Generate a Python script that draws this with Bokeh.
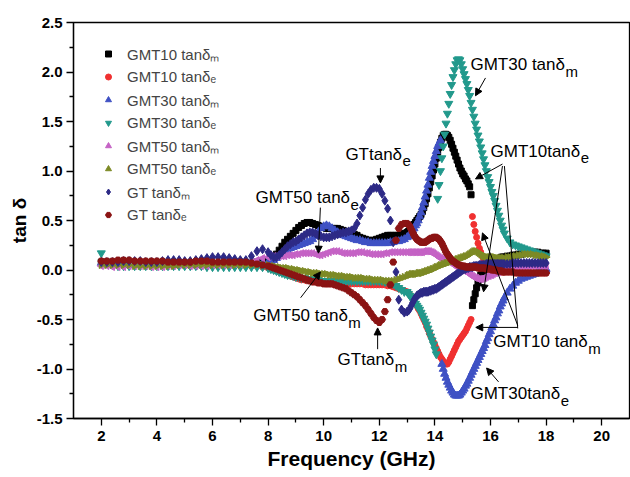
import numpy as np
from bokeh.plotting import figure
from bokeh.models import (ColumnDataSource, Range1d, FixedTicker, NumeralTickFormatter,
                          Legend, LegendItem, Label, Arrow, NormalHead)
from bokeh.embed import file_html
from bokeh.resources import INLINE

# ---------------- data ----------------
# frequency grid (GHz): 0.2 step 2-7.8, 0.1 step 8-12.9, 0.05 step 13-16.45, 0.1 step 16.5-18
freq = np.round(np.concatenate([np.arange(2.0, 7.9, 0.2), np.arange(8.0, 12.95, 0.1),
                                np.arange(13.0, 16.475, 0.05), np.arange(16.5, 18.05, 0.1)]), 2)

gmt10_m = [0.08,0.08,0.07,0.07,0.07,0.07,0.06,0.06,0.07,0.07,
           0.07,0.07,0.06,0.06,0.06,0.07,0.07,0.07,0.07,0.06,
           0.06,0.06,0.07,0.07,0.08,0.08,0.07,0.07,0.08,0.09,
           0.10,0.11,0.13,0.16,0.20,0.24,0.28,0.31,0.34,0.37,
           0.40,0.43,0.45,0.47,0.48,0.48,0.47,0.46,0.45,0.44,
           0.43,0.42,0.42,0.42,0.42,0.42,0.41,0.40,0.39,0.38,
           0.37,0.36,0.35,0.33,0.32,0.31,0.30,0.30,0.30,0.31,
           0.32,0.33,0.34,0.35,0.35,0.35,0.35,0.35,0.36,0.37,
           0.38,0.39,0.40,0.42,0.44,0.46,0.48,0.50,0.52,0.54,
           0.56,0.59,0.63,0.67,0.72,0.77,0.83,0.89,0.95,1.01,
           1.07,1.13,1.19,1.24,1.29,1.33,1.36,1.37,1.37,1.36,
           1.34,1.31,1.27,1.23,1.19,1.15,1.11,1.07,1.03,1.00,
           0.97,0.95,0.92,0.90,0.87,0.84,0.76,-0.36,-0.30,-0.24,
           -0.18,-0.13,-0.09,-0.05,-0.02,0.00,0.01,0.02,0.03,0.04,
           0.05,0.06,0.07,0.08,0.09,0.10,0.11,0.12,0.13,0.13,
           0.13,0.14,0.14,0.15,0.15,0.16,0.16,0.17,0.17,0.17,0.18,0.18,0.18,0.17,0.17,0.17]

gmt10_e = [0.06,0.06,0.05,0.05,0.05,0.05,0.05,0.05,0.05,0.05,
           0.05,0.05,0.05,0.05,0.05,0.05,0.05,0.05,0.05,0.05,
           0.05,0.05,0.05,0.05,0.05,0.05,0.05,0.04,0.04,0.03,
           0.02,0.01,0.00,-0.01,-0.02,-0.03,-0.04,-0.05,-0.06,-0.07,
           -0.08,-0.09,-0.10,-0.10,-0.11,-0.11,-0.12,-0.12,-0.13,-0.13,
           -0.13,-0.14,-0.14,-0.14,-0.14,-0.14,-0.14,-0.14,-0.14,-0.14,
           -0.14,-0.14,-0.14,-0.14,-0.14,-0.15,-0.15,-0.15,-0.15,-0.15,
           -0.15,-0.15,-0.15,-0.16,-0.16,-0.17,-0.18,-0.19,-0.20,-0.21,
           -0.22,-0.23,-0.25,-0.27,-0.29,-0.31,-0.34,-0.36,-0.39,-0.41,
           -0.44,-0.47,-0.50,-0.53,-0.57,-0.60,-0.64,-0.67,-0.70,-0.73,
           -0.76,-0.79,-0.82,-0.85,-0.88,-0.90,-0.92,-0.94,-0.95,-0.95,
           -0.93,-0.90,-0.87,-0.84,-0.81,-0.78,-0.75,-0.72,-0.70,-0.68,
           -0.66,-0.64,-0.62,-0.59,-0.56,-0.53,-0.50,0.54,0.46,0.39,
           0.33,0.27,0.22,0.18,0.14,0.11,0.08,0.06,0.04,0.03,
           0.02,0.01,0.00,0.00,-0.01,-0.01,-0.02,-0.02,-0.02,-0.02,
           -0.02,-0.02,-0.02,-0.02,-0.02,-0.02,-0.02,-0.03,-0.03,-0.03,-0.03,-0.03,-0.03,-0.03,-0.03,-0.03]

gmt30_m = [0.07,0.06,0.06,0.05,0.05,0.05,0.05,0.05,0.05,0.05,
           0.05,0.05,0.05,0.05,0.05,0.05,0.05,0.05,0.05,0.05,
           0.05,0.05,0.05,0.05,0.05,0.06,0.06,0.06,0.07,0.07,
           0.08,0.09,0.10,0.12,0.14,0.16,0.18,0.20,0.22,0.23,
           0.24,0.25,0.26,0.27,0.28,0.29,0.31,0.34,0.38,0.42,
           0.44,0.45,0.44,0.42,0.40,0.38,0.36,0.35,0.34,0.33,
           0.32,0.31,0.30,0.30,0.29,0.28,0.28,0.27,0.27,0.27,
           0.27,0.27,0.27,0.27,0.28,0.28,0.29,0.29,0.30,0.31,
           0.33,0.34,0.36,0.38,0.40,0.42,0.45,0.47,0.50,0.54,
           0.58,0.63,0.68,0.74,0.80,0.86,0.93,0.99,1.05,1.10,
           1.15,1.20,1.25,1.28,1.31,-0.95,-1.00,-1.05,-1.09,-1.13,
           -1.16,-1.19,-1.22,-1.24,-1.26,-1.27,-1.27,-1.27,-1.26,-1.24,
           -1.22,-1.20,-1.17,-1.15,-1.12,-1.09,-1.06,-1.03,-1.00,-0.97,
           -0.94,-0.91,-0.88,-0.85,-0.82,-0.79,-0.76,-0.72,-0.69,-0.65,
           -0.62,-0.58,-0.55,-0.51,-0.48,-0.44,-0.41,-0.37,-0.34,-0.31,
           -0.28,-0.23,-0.19,-0.16,-0.13,-0.11,-0.09,-0.08,-0.07,-0.06,-0.05,-0.04,-0.02,-0.01,0.00,0.01]

gmt30_e = [0.17,0.08,0.05,0.04,0.04,0.04,0.04,0.04,0.04,0.04,
           0.04,0.04,0.04,0.04,0.04,0.04,0.04,0.04,0.04,0.03,
           0.03,0.03,0.03,0.03,0.03,0.03,0.03,0.03,0.03,0.03,
           0.02,0.01,0.00,-0.01,-0.02,-0.03,-0.04,-0.05,-0.05,-0.06,
           -0.07,-0.07,-0.08,-0.08,-0.09,-0.09,-0.10,-0.10,-0.10,-0.11,
           -0.11,-0.11,-0.11,-0.11,-0.11,-0.11,-0.11,-0.11,-0.11,-0.11,
           -0.11,-0.11,-0.11,-0.11,-0.11,-0.11,-0.11,-0.11,-0.11,-0.11,
           -0.11,-0.11,-0.12,-0.12,-0.13,-0.14,-0.16,-0.18,-0.20,-0.22,
           -0.22,-0.24,-0.26,-0.28,-0.30,-0.32,-0.34,-0.36,-0.38,-0.40,
           -0.43,-0.46,-0.49,-0.52,-0.55,-0.59,-0.63,-0.67,-0.71,-0.75,
           -0.80,-0.85,0.72,0.86,1.00,1.13,1.25,1.37,1.48,1.58,
           1.68,1.78,1.87,1.95,2.02,2.08,2.12,2.13,2.12,2.08,
           2.03,1.98,1.93,1.88,1.82,1.76,1.69,1.62,1.55,1.48,
           1.42,1.36,1.30,1.24,1.18,1.12,1.06,1.00,0.94,0.89,
           0.84,0.79,0.75,0.70,0.65,0.60,0.55,0.50,0.45,0.41,
           0.37,0.32,0.28,0.26,0.25,0.24,0.23,0.22,0.21,0.20,0.19,0.18,0.17,0.16,0.15,0.14]

gmt50_m = [0.04,0.04,0.03,0.03,0.03,0.04,0.04,0.04,0.04,0.03,
           0.03,0.03,0.04,0.04,0.05,0.05,0.04,0.04,0.04,0.04,
           0.05,0.05,0.05,0.05,0.06,0.06,0.07,0.08,0.10,0.12,
           0.13,0.14,0.14,0.14,0.14,0.14,0.14,0.15,0.15,0.15,
           0.16,0.16,0.17,0.17,0.17,0.17,0.17,0.16,0.15,0.15,
           0.16,0.17,0.18,0.19,0.19,0.19,0.18,0.17,0.17,0.17,
           0.17,0.17,0.18,0.18,0.18,0.17,0.17,0.16,0.16,0.16,
           0.16,0.16,0.17,0.17,0.18,0.18,0.18,0.18,0.18,0.18,
           0.18,0.18,0.18,0.18,0.18,0.18,0.18,0.18,0.18,0.18,
           0.18,0.18,0.19,0.19,0.19,0.19,0.19,0.18,0.18,0.17,
           0.16,0.15,0.14,0.13,0.12,0.11,0.11,0.10,0.10,0.09,
           0.09,0.08,0.07,0.06,0.05,0.04,0.03,0.02,0.01,0.00,
           0.00,-0.01,-0.01,-0.02,-0.03,-0.04,-0.05,-0.06,-0.07,-0.08,
           -0.08,-0.09,-0.09,-0.09,-0.09,-0.08,-0.08,-0.07,-0.06,-0.06,
           -0.05,-0.05,-0.04,-0.03,-0.03,-0.02,-0.02,-0.01,-0.01,0.00,
           0.00,0.01,0.01,0.02,0.02,0.02,0.03,0.03,0.03,0.03,0.04,0.04,0.04,0.04,0.04,0.04]

gmt50_e = [0.05,0.05,0.05,0.05,0.05,0.05,0.04,0.04,0.04,0.04,
           0.04,0.04,0.04,0.04,0.05,0.05,0.05,0.05,0.05,0.05,
           0.05,0.05,0.05,0.05,0.05,0.05,0.05,0.05,0.05,0.05,
           0.05,0.04,0.04,0.03,0.03,0.02,0.02,0.02,0.01,0.01,
           0.00,0.00,-0.01,-0.01,-0.02,-0.02,-0.03,-0.03,-0.03,-0.04,
           -0.04,-0.04,-0.05,-0.05,-0.05,-0.06,-0.06,-0.06,-0.07,-0.07,
           -0.07,-0.08,-0.08,-0.08,-0.08,-0.09,-0.09,-0.09,-0.10,-0.10,
           -0.10,-0.10,-0.11,-0.11,-0.11,-0.11,-0.10,-0.09,-0.08,-0.07,
           -0.06,-0.05,-0.05,-0.04,-0.04,-0.04,-0.04,-0.04,-0.03,-0.03,
           -0.03,-0.03,-0.02,-0.02,-0.01,-0.01,0.00,0.00,0.01,0.01,
           0.02,0.03,0.03,0.04,0.05,0.05,0.06,0.06,0.07,0.07,
           0.08,0.08,0.09,0.09,0.10,0.10,0.11,0.11,0.12,0.12,
           0.13,0.13,0.14,0.14,0.15,0.16,0.17,0.18,0.19,0.19,
           0.19,0.18,0.17,0.16,0.15,0.14,0.14,0.13,0.13,0.13,
           0.13,0.13,0.13,0.13,0.12,0.12,0.12,0.12,0.12,0.12,
           0.12,0.13,0.13,0.14,0.14,0.15,0.15,0.16,0.16,0.16,0.16,0.15,0.15,0.14,0.14,0.13]

gt_m = [0.08,0.08,0.08,0.08,0.09,0.09,0.09,0.09,0.08,0.08,
        0.08,0.09,0.10,0.10,0.10,0.09,0.09,0.10,0.11,0.12,
        0.13,0.13,0.13,0.12,0.11,0.10,0.10,0.14,0.19,0.21,
        0.18,0.15,0.13,0.13,0.15,0.18,0.21,0.24,0.26,0.28,
        0.29,0.31,0.33,0.35,0.37,0.38,0.38,0.37,0.35,0.34,
        0.33,0.33,0.33,0.34,0.35,0.36,0.37,0.38,0.38,0.39,
        0.40,0.42,0.47,0.55,0.63,0.71,0.77,0.81,0.83,0.83,
        0.82,0.77,0.70,0.62,0.50,0.28,-0.02,-0.30,-0.40,-0.43,
        -0.42,-0.41,-0.39,-0.36,-0.33,-0.30,-0.28,-0.26,-0.25,-0.24,
        -0.23,-0.23,-0.22,-0.22,-0.22,-0.22,-0.21,-0.21,-0.20,-0.20,
        -0.19,-0.19,-0.18,-0.17,-0.16,-0.15,-0.14,-0.13,-0.12,-0.11,
        -0.10,-0.09,-0.08,-0.07,-0.06,-0.05,-0.04,-0.03,-0.02,-0.01,
        0.00,0.01,0.01,0.02,0.02,0.03,0.03,0.03,0.04,0.04,
        0.04,0.04,0.05,0.05,0.05,0.05,0.05,0.06,0.06,0.06,
        0.06,0.06,0.06,0.06,0.06,0.06,0.06,0.06,0.06,0.06,
        0.06,0.06,0.06,0.07,0.07,0.07,0.07,0.07,0.07,0.07,0.07,0.07,0.07,0.07,0.07,0.07]

gt_e = [0.09,0.09,0.09,0.10,0.10,0.10,0.09,0.09,0.09,0.09,
        0.09,0.09,0.08,0.08,0.08,0.08,0.08,0.09,0.09,0.09,
        0.08,0.08,0.08,0.08,0.08,0.08,0.08,0.07,0.06,0.05,
        0.04,0.03,0.02,0.01,0.00,-0.01,-0.02,-0.03,-0.04,-0.05,
        -0.06,-0.07,-0.08,-0.09,-0.10,-0.11,-0.12,-0.12,-0.13,-0.13,
        -0.14,-0.14,-0.14,-0.14,-0.15,-0.16,-0.17,-0.18,-0.19,-0.21,
        -0.23,-0.25,-0.27,-0.30,-0.33,-0.36,-0.40,-0.44,-0.48,-0.51,
        -0.53,-0.50,-0.42,-0.30,-0.15,0.08,0.30,0.42,0.46,0.47,
        0.47,0.46,0.44,0.41,0.38,0.35,0.33,0.31,0.30,0.29,
        0.28,0.28,0.28,0.28,0.29,0.30,0.31,0.32,0.32,0.33,
        0.33,0.33,0.32,0.31,0.29,0.27,0.24,0.21,0.18,0.16,
        0.14,0.12,0.10,0.09,0.08,0.07,0.06,0.05,0.05,0.04,
        0.04,0.04,0.03,0.03,0.03,0.03,0.03,0.03,0.03,0.03,
        0.03,0.02,0.02,0.02,0.02,0.02,0.02,0.01,0.01,0.01,
        0.01,0.00,0.00,0.00,0.00,-0.01,-0.01,-0.01,-0.01,-0.02,
        -0.02,-0.02,-0.02,-0.02,-0.03,-0.03,-0.03,-0.03,-0.03,-0.03,-0.03,-0.03,-0.03,-0.03,-0.03,-0.03]

x_ticks = [2, 4, 6, 8, 10, 12, 14, 16, 18, 20]
x_minor = [3, 5, 7, 9, 11, 13, 15, 17, 19]
y_ticks = [-1.5, -1.0, -0.5, 0.0, 0.5, 1.0, 1.5, 2.0, 2.5]
y_minor = [-1.25, -0.75, -0.25, 0.25, 0.75, 1.25, 1.75, 2.25]

series = [
    ("gmt10_m", gmt10_m, "GMT10 tanδ\u2098", "square", 6, "#000000", 0.0),
    ("gmt10_e", gmt10_e, "GMT10 tanδ\u2091", "circle", 6, "#f03030", 0.0),
    ("gmt30_m", gmt30_m, "GMT30 tanδ\u2098", "triangle", 8, "#3f51c4", 0.0),
    ("gmt30_e", gmt30_e, "GMT30 tanδ\u2091", "inverted_triangle", 8, "#22998c", 0.0),
    ("gmt50_m", gmt50_m, "GMT50 tanδ\u2098", "triangle", 7, "#c563c5", np.pi / 2),
    ("gmt50_e", gmt50_e, "GMT50 tanδ\u2091", "triangle", 7, "#7d8a25", -np.pi / 2),
    ("gt_m", gt_m, "GT tanδ\u2098", "diamond", 9, "#2d2a86", 0.0),
    ("gt_e", gt_e, "GT tanδ\u2091", "hex", 7, "#8b1414", 0.0),
]

data = {"f": freq}
for key, vals, *_ in series:
    assert len(vals) == len(freq), (key, len(vals), len(freq))
    data[key] = vals
src = ColumnDataSource(data)

FONT = "Liberation Sans"

p = figure(width=630, height=477, output_backend="svg", toolbar_location=None,
           x_range=Range1d(1, 21), y_range=Range1d(-1.5, 2.5),
           min_border_left=73, min_border_right=1, min_border_top=22, min_border_bottom=59)
p.xgrid.visible = False
p.ygrid.visible = False
p.outline_line_color = "black"
p.outline_line_width = 1.3
p.outline_line_alpha = 1.0
p.background_fill_color = "white"
p.border_fill_color = "white"

items = []
for key, vals, label, marker, size, color, angle in series:
    r = p.scatter(x="f", y=key, source=src, marker=marker, size=size, angle=angle,
                  fill_color=color, line_color=color)
    items.append(LegendItem(label=label, renderers=[r]))

legend = Legend(items=items, location="top_left", margin=10, padding=10, spacing=0,
                label_height=23, glyph_height=15, glyph_width=30, label_standoff=4,
                label_text_font=FONT, label_text_font_size="15px",
                background_fill_alpha=0, border_line_alpha=0)
p.add_layout(legend)

for ax in (p.xaxis[0], p.yaxis[0]):
    ax.major_label_text_font = FONT
    ax.major_label_text_font_style = "bold"
    ax.major_label_text_font_size = "15px"
    ax.major_label_text_color = "black"
    ax.axis_label_text_font = FONT
    ax.axis_label_text_font_style = "bold"
    ax.axis_label_text_color = "black"
    ax.axis_line_width = 1.3
    ax.major_tick_line_width = 1.3
    ax.minor_tick_line_width = 1.3
    ax.major_tick_in = 0
    ax.major_tick_out = 7
    ax.minor_tick_in = 0
    ax.minor_tick_out = 4

p.xaxis.ticker = FixedTicker(ticks=x_ticks, minor_ticks=x_minor)
p.yaxis.ticker = FixedTicker(ticks=y_ticks, minor_ticks=y_minor)
p.yaxis.formatter = NumeralTickFormatter(format="0.0")
p.xaxis.axis_label = "Frequency (GHz)"
p.xaxis.axis_label_text_font_size = "21px"
p.xaxis.major_label_standoff = 5
p.xaxis.axis_label_standoff = 3
p.yaxis.axis_label = "tan δ"
p.yaxis.axis_label_text_font_size = "19px"
p.yaxis.major_label_standoff = 4
p.yaxis.axis_label_standoff = 4

# ---------------- annotations ----------------
W = {"G": .778, "M": .833, "T": .611, "0": .556, "1": .556, "3": .556, "5": .556,
     " ": .278, "t": .278, "a": .556, "n": .556, "δ": .556}

def ann(x, y, main, sub, size=17):
    w = sum(W.get(c, .556) for c in main) * size
    p.add_layout(Label(x=x, y=y, text=main, text_font=FONT, text_font_size=f"{size}px",
                       text_baseline="middle", text_color="black"))
    p.add_layout(Label(x=x, y=y, x_offset=w + 0.5, y_offset=-7, text=sub, text_font=FONT,
                       text_font_size="15px", text_baseline="middle", text_color="black"))

ann(15.28, 2.08, "GMT30 tanδ", "m")
ann(16.00, 1.20, "GMT10tanδ", "e")
ann(7.55, 0.73, "GMT50 tanδ", "e")
ann(10.78, 1.17, "GTtanδ", "e")
ann(7.47, -0.46, "GMT50 tanδ", "m")
ann(10.50, -0.90, "GTtanδ", "m")
ann(16.10, -0.72, "GMT10 tanδ", "m")
ann(15.28, -1.25, "GMT30tanδ", "e")

def arrow(x0, y0, x1, y1, head=True):
    end = NormalHead(size=7, fill_color="black", line_color="black", line_width=1) if head else None
    p.add_layout(Arrow(end=end, x_start=x0, y_start=y0, x_end=x1, y_end=y1,
                       line_color="black", line_width=1))

arrow(15.82, 1.94, 15.46, 1.76)      # GMT30 tan d_m
arrow(16.43, 1.07, 15.46, 0.92)      # GMT10 tan d_e -> black
arrow(16.43, 1.05, 15.75, -0.22)     # GMT10 tan d_e -> black glitch
arrow(16.98, -0.58, 15.47, -0.58)    # GMT10 tan d_m -> red
arrow(16.98, -0.56, 15.71, 0.375)    # GMT10 tan d_m -> red glitch
arrow(16.50, 1.05, 16.98, -0.59, head=False)
arrow(16.29, -1.13, 15.86, -0.99)    # GMT30 tan d_e
arrow(11.94, -0.80, 11.94, -0.585)   # GT tan d_m
arrow(9.17, -0.28, 9.88, -0.02)      # GMT50 tan d_m
arrow(9.88, 0.63, 9.81, 0.17)        # GMT50 tan d_e
arrow(12.04, 1.03, 12.04, 0.88)      # GT tan d_e

open("out.html", "w").write(file_html(p, INLINE))
